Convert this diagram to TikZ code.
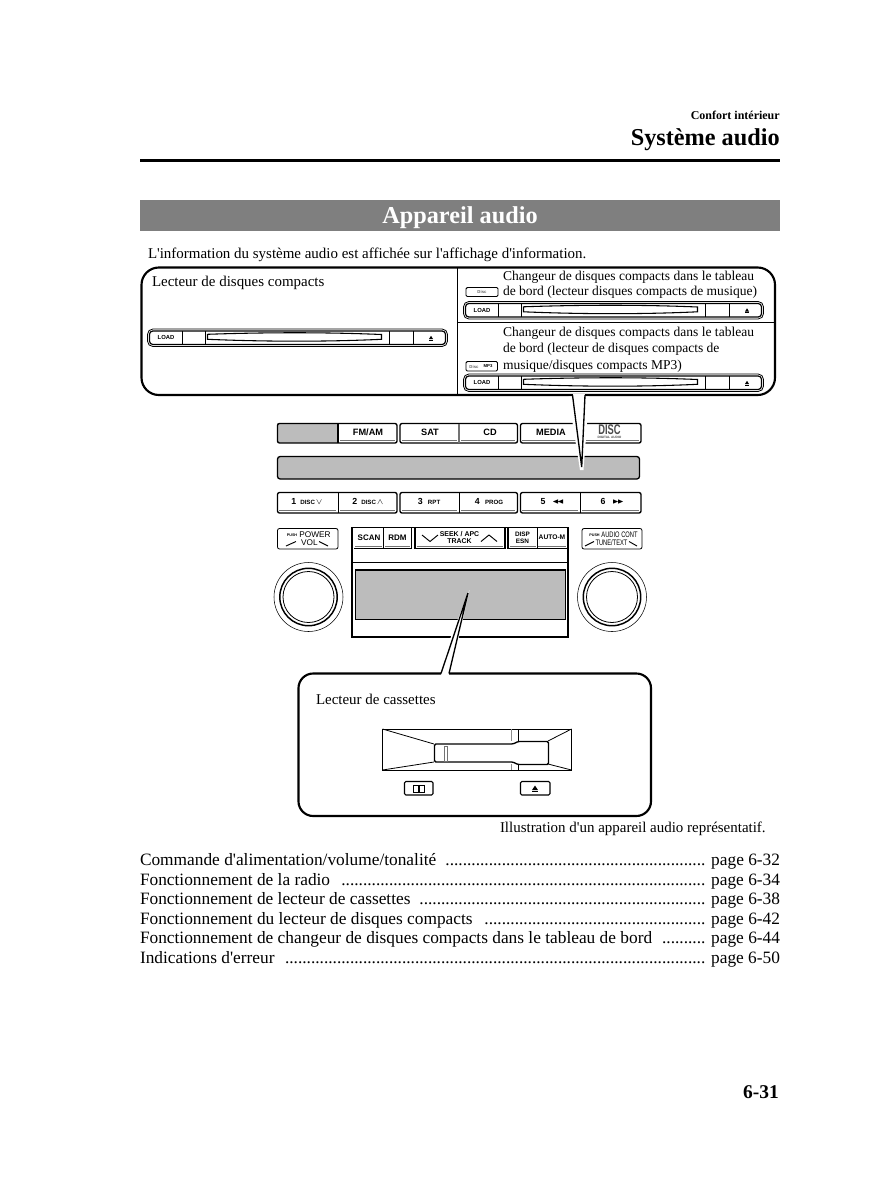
\documentclass[tikz,border=0pt]{standalone}
\usepackage{graphicx}
\usepackage{fontspec}
\setmainfont{Liberation Serif}[Ligatures=TeXOff]
\setsansfont{Liberation Sans}
\definecolor{panelgray}{HTML}{BCBCBC}
\definecolor{bandgray}{HTML}{7F7F7F}
\tikzset{
  x=0.75pt,y=-0.75pt,
  bodytxt/.style={inner sep=0pt,outer sep=0pt,anchor=base west,font=\fontsize{13}{15}\selectfont},
  notetxt/.style={inner sep=0pt,outer sep=0pt,anchor=base west,font=\fontsize{11.22}{13}\selectfont},
  smalltxt/.style={inner sep=0pt,outer sep=0pt,anchor=base west,font=\fontsize{10.15}{12}\selectfont},
  btn/.style={inner sep=0pt,font=\sffamily\bfseries\fontsize{6}{6.5}\selectfont},
  bigbtn/.style={inner sep=0pt,font=\sffamily\bfseries\fontsize{6.9}{7}\selectfont},
  numbtn/.style={inner sep=0pt,anchor=base,font=\sffamily\bfseries\fontsize{6.6}{7}\selectfont},
  heavy/.style={draw=black,line width=1.6pt},
  med/.style={draw=black,line width=1pt},
  thin/.style={draw=black,line width=0.5pt},
  under/.style={draw=black!55,line width=0.7pt},
}
\newcommand{\smallcap}{\fontsize{4.6}{5}\selectfont}
% CD unit: #1 left, #2 top
\newcommand{\cdunit}[2]{%
 \begin{scope}[shift={(#1,#2)}]
  \draw[thin,line width=.6pt,rounded corners=4pt] (0,0) rectangle (300,17.5);
  \draw[med,line width=.9pt,rounded corners=2.5pt] (2,2) rectangle (298,15.5);
  \draw[thin,line width=.6pt] (58,2)--(58,15.5) (242,2)--(242,15.5);
  \draw[med] (35,2)--(35,15.5) (266,2)--(266,15.5);
  \draw[line width=.8pt] (60,5.3) .. controls (120,3.2) and (180,3.2) .. (234,5.5)--(234,10.3) .. controls (180,12.8) and (120,12.8) .. (60,10.3)--cycle;
  \node[inner sep=0pt,font=\sffamily\bfseries\fontsize{4.4}{5}\selectfont] at (18.5,8.7) {LOAD};
  \fill (281.5,10)--(283.5,6.8)--(285.5,10)--cycle;
  \fill (281.5,10.6)rectangle(285.5,11.3);
 \end{scope}}
\begin{document}
\begin{tikzpicture}
\useasboundingbox (0,0) rectangle (891,1200);
\fill[white] (0,0) rectangle (891,1200);
% header
\node[inner sep=0pt,anchor=base east,font=\bfseries\fontsize{9}{10}\selectfont] (hdrA) at (780,119) {Confort intérieur};
\node[inner sep=0pt,anchor=base east,font=\bfseries\fontsize{18.2}{20}\selectfont] (hdrB) at (780,145) {Système audio};
\fill (140,158.5) rectangle (780,161.5);
\fill[bandgray] (140,200) rectangle (780,231);
\node[inner sep=0pt,anchor=base,text=white,font=\bfseries\fontsize{18.2}{20}\selectfont] (band) at (460,223) {Appareil audio};
\node[notetxt] (intro) at (148,258) {L'information du système audio est affichée sur l'affichage d'information.};
% top box
\draw[heavy,rounded corners=13pt,fill=white] (141.5,267.5) rectangle (775,395);
\draw[thin,line width=.8pt] (457.5,267.5)--(457.5,395) (457.5,322.5)--(775,322.5);
\node[notetxt] (cdp) at (152,286) {Lecteur de disques compacts};
\cdunit{147.5}{329}
\cdunit{463.5}{301.5}
\cdunit{463.5}{374}
\node[smalltxt] (c1a) at (503,280) {Changeur de disques compacts dans le tableau};
\node[smalltxt] (c1b) at (503,295) {de bord (lecteur disques compacts de musique)};
\node[smalltxt] (c2a) at (503,336) {Changeur de disques compacts dans le tableau};
\node[smalltxt] (c2b) at (503,352) {de bord (lecteur de disques compacts de};
\node[smalltxt] (c2c) at (503,369) {musique/disques compacts MP3)};
\draw[thin,line width=.7pt,rounded corners=1pt] (466,287.5) rectangle (498,296.5);
\draw[thin,line width=.7pt,rounded corners=1pt] (466,361.5) rectangle (497.5,371);
\node[inner sep=0pt,text=black!60,font=\sffamily\bfseries\fontsize{3.2}{3}\selectfont] (ic1) at (482,292) {Disc};
\node[inner sep=0pt,text=black!60,font=\sffamily\bfseries\fontsize{3.2}{3}\selectfont] (ic2) at (474,366.5) {Disc};
\node[inner sep=0pt,font=\sffamily\bfseries\fontsize{3.2}{3}\selectfont] (ic3) at (488,366.5) {MP3};
% row 1
\fill[panelgray] (277,423) rectangle (338,443);
\draw[med,rounded corners=1.5pt] (277.5,423.5) rectangle (397,443);
\draw[med,rounded corners=1.5pt] (400,423.5) rectangle (517.5,443);
\draw[med,rounded corners=1.5pt] (520.5,423.5) rectangle (641,443);
\draw[med] (338,423.5)--(338,443);
\draw[under,line width=1pt] (459,423.5)--(459,443);
\draw[under] (340,440.5)--(395,440.5) (402,440.5)--(457,440.5) (461,440.5)--(515,440.5) (522,440.5)--(578,440.5) (586,440.5)--(639,440.5);
\node[bigbtn] (fm) at (368,432) {FM/AM};
\node[bigbtn] (sat) at (430,432) {SAT};
\node[bigbtn] (cd) at (490,432) {CD};
\node[bigbtn] (media) at (551,432) {MEDIA};
\node[inner sep=0pt,text=black!70,font=\sffamily\bfseries\fontsize{7}{7}\selectfont] (disc) at (609.5,429.5) {\scalebox{1}[1.5]{DISC}};
\node[inner sep=0pt,text=black!70,font=\sffamily\bfseries\fontsize{2.4}{3}\selectfont] (disc2) at (609.5,437) {DIGITAL AUDIO};
% display
\draw[med,fill=panelgray,rounded corners=2pt] (277.5,456.5) rectangle (639.5,479);
% callout 1
\fill[white] (568.5,396.5)--(589,396.5)--(583.5,470)--(580,470)--cycle;
\fill[white] (573,394) rectangle (585,397);
\draw[med] (572.5,395)--(581.7,467)--(585,395);
% row 3
\draw[med,rounded corners=1.5pt] (277.5,492.5) rectangle (397,513);
\draw[med,rounded corners=1.5pt] (400,492.5) rectangle (517.5,513);
\draw[med,rounded corners=1.5pt] (520.5,492.5) rectangle (641,513);
\draw[thin,line width=.7pt] (338,492.5)--(338,513) (459,492.5)--(459,513) (580,492.5)--(580,513);
\draw[under] (279,510.5)--(336,510.5) (340,510.5)--(395,510.5) (402,510.5)--(457,510.5) (461,510.5)--(515,510.5) (522,510.5)--(578,510.5) (582,510.5)--(639,510.5);
\node[numbtn] (b1) at (307,504.5) {1\hspace{3pt}\smallcap DISC\,\fontsize{6}{6}\selectfont$\vee$};
\node[numbtn] (b2) at (368,504.5) {2\hspace{3pt}\smallcap DISC\,\fontsize{6}{6}\selectfont$\wedge$};
\node[numbtn] (b3) at (429,504.5) {3\hspace{4pt}\smallcap RPT};
\node[numbtn] (b4) at (489,504.5) {4\hspace{4pt}\smallcap PROG};
\node[numbtn] (b5) at (543,504.5) {5};
\node[numbtn] (b6) at (603,504.5) {6};
\fill (553,501.5)--(558,499.3)--(558,503.7)--cycle (558,501.5)--(563,499.3)--(563,503.7)--cycle;
\fill (618,499.3)--(623,501.5)--(618,503.7)--cycle (613,499.3)--(618,501.5)--(613,503.7)--cycle;
% left and right label boxes
\draw[thin,line width=.6pt,rounded corners=1.5pt] (277.5,528.5) rectangle (338,549);
\draw[thin,line width=.6pt,rounded corners=1.5pt] (582,528.5) rectangle (642,549);
\node[inner sep=0pt,font=\sffamily\fontsize{6.2}{7}\selectfont] (pw) at (315,534.5) {POWER};
\node[inner sep=0pt,font=\sffamily\bfseries\fontsize{2.8}{3}\selectfont] (pp) at (292,535) {PUSH};
\node[inner sep=0pt,font=\sffamily\fontsize{6.2}{7}\selectfont] (vol) at (309.5,542.5) {VOL};
\draw[thin,line width=.7pt] (286,546)--(296,541.5) (319,541.5)--(328,546);
\node[inner sep=0pt,font=\sffamily\fontsize{6}{7}\selectfont] (au) at (619.5,534.5) {\scalebox{.72}[1]{AUDIO CONT}};
\node[inner sep=0pt,font=\sffamily\bfseries\fontsize{2.8}{3}\selectfont] (pp2) at (594.5,535) {PUSH};
\node[inner sep=0pt,font=\sffamily\fontsize{6}{7}\selectfont] (tu) at (611.5,542.5) {\scalebox{.72}[1]{TUNE/TEXT}};
\draw[thin,line width=.7pt] (585,546)--(594,541.5) (629,541.5)--(637,546);
% knobs
\foreach \cx/\nm in {308.5/kl,612/kr}{
  \coordinate (\nm) at (\cx,597);
  \draw[thin,line width=.4pt] (\nm) circle[radius=34.5];
  \draw[med,line width=1.1pt] (\nm) circle[radius=28.7];
  \draw[thin,line width=.6pt] (\nm) circle[radius=25.5];
}
% centre block
\draw[med] (352,527.5) rectangle (568,637);
\draw[thin,line width=.6pt] (352,562)--(568,562);
\draw[med] (411.5,527.5)--(411.5,548.5)--(354,548.5);
\draw[med] (415,527.5)--(415,548.5)--(505,548.5)--(505,527.5);
\draw[med] (508,527.5)--(508,548.5)--(567,548.5);
\draw[thin,line width=.7pt] (383.5,527.5)--(383.5,548.5) (537,527.5)--(537,548.5);
\draw[under] (355,546)--(382,546) (385,546)--(410,546) (417,546)--(503,546) (510,546)--(536,546) (538,546)--(566,546);
\node[btn] (scan) at (369,537.5) {SCAN};
\node[btn] (rdm) at (397.5,537.5) {RDM};
\node[btn,align=center,font=\sffamily\bfseries\fontsize{5.2}{5.9}\selectfont] (seek) at (459.5,537.5) {SEEK / APC\\TRACK};
\node[btn,align=center,font=\sffamily\bfseries\fontsize{4.8}{5.2}\selectfont] (disp) at (522.5,537.5) {DISP\\ESN};
\node[btn,font=\sffamily\bfseries\fontsize{5}{5}\selectfont] (auto) at (552,537.5) {AUTO-M};
\draw[thin,line width=.7pt] (422,535)--(430,541.5)--(438,535) (481,541.5)--(489,535)--(497,541.5);
\draw[med,line width=1.2pt,fill=panelgray] (355.5,570) rectangle (565.5,619.5);
% callout 2
\fill[white] (469.5,590)--(437,672)--(451,672)--cycle;
\draw[med] (441,673.5)--(468,593)--(449,673.5);
% cassette box
\draw[heavy,rounded corners=11pt] (441,673.5)--(298.5,673.5)--(298.5,816)--(651,816)--(651,673.5)--(449,673.5);
\node[notetxt] (cas) at (316,704) {Lecteur de cassettes};
\draw[thin,line width=.6pt] (382.5,729)--(571.5,729)--(571.5,770)--(382.5,770)--cycle;
\draw[thin,line width=.6pt] (382.5,729)--(434,744) (382.5,770)--(434,762) (571.5,729)--(548,741) (571.5,770)--(548,764);
\draw[draw=black!45,line width=.9pt] (511.5,729)--(511.5,741) (511.5,764)--(511.5,770);
\draw[thin,line width=.6pt] (518,729)--(518,741) (518,764)--(518,770);
\draw[med,fill=white,rounded corners=1pt] (434.5,744)--(513,744)--(518,741.5)--(548.5,741.5)--(548.5,764.5)--(518,764.5)--(513,762)--(434.5,762)--cycle;
\draw[draw=black!55,line width=.5pt] (444,746)rectangle(447.5,761);
\draw[med,line width=.8pt,rounded corners=1pt] (404.5,781.5) rectangle (433,795);
\draw[med,line width=.8pt,rounded corners=1pt] (520.5,781.5) rectangle (550,795);
\draw[thin,line width=.7pt] (413,785)rectangle(418.5,792) (419,785)rectangle(424.5,792);
\fill (532,790)--(535,785.5)--(538,790)--cycle;
\fill (532,791)rectangle(538,792);
\node[notetxt] (illu) at (500,832) {Illustration d'un appareil audio représentatif.};
% list
\node[bodytxt] (l1) at (140,865) {\hbox to 480pt{Commande d'alimentation/volume/tonalité\hfill ............................................................ page 6-32}};
\node[bodytxt] (l2) at (140,885) {\hbox to 480pt{Fonctionnement de la radio\hfill .................................................................................... page 6-34}};
\node[bodytxt] (l3) at (140,904) {\hbox to 480pt{Fonctionnement de lecteur de cassettes\hfill .................................................................. page 6-38}};
\node[bodytxt] (l4) at (140,924) {\hbox to 480pt{Fonctionnement du lecteur de disques compacts\hfill ................................................... page 6-42}};
\node[bodytxt] (l5) at (140,943) {\hbox to 480pt{Fonctionnement de changeur de disques compacts dans le tableau de bord\hfill .......... page 6-44}};
\node[bodytxt] (l6) at (140,963) {\hbox to 480pt{Indications d'erreur\hfill ................................................................................................. page 6-50}};
\node[inner sep=0pt,anchor=base east,font=\bfseries\fontsize{14.6}{16}\selectfont] (pg) at (779,1098) {6-31};
\end{tikzpicture}
\end{document}
